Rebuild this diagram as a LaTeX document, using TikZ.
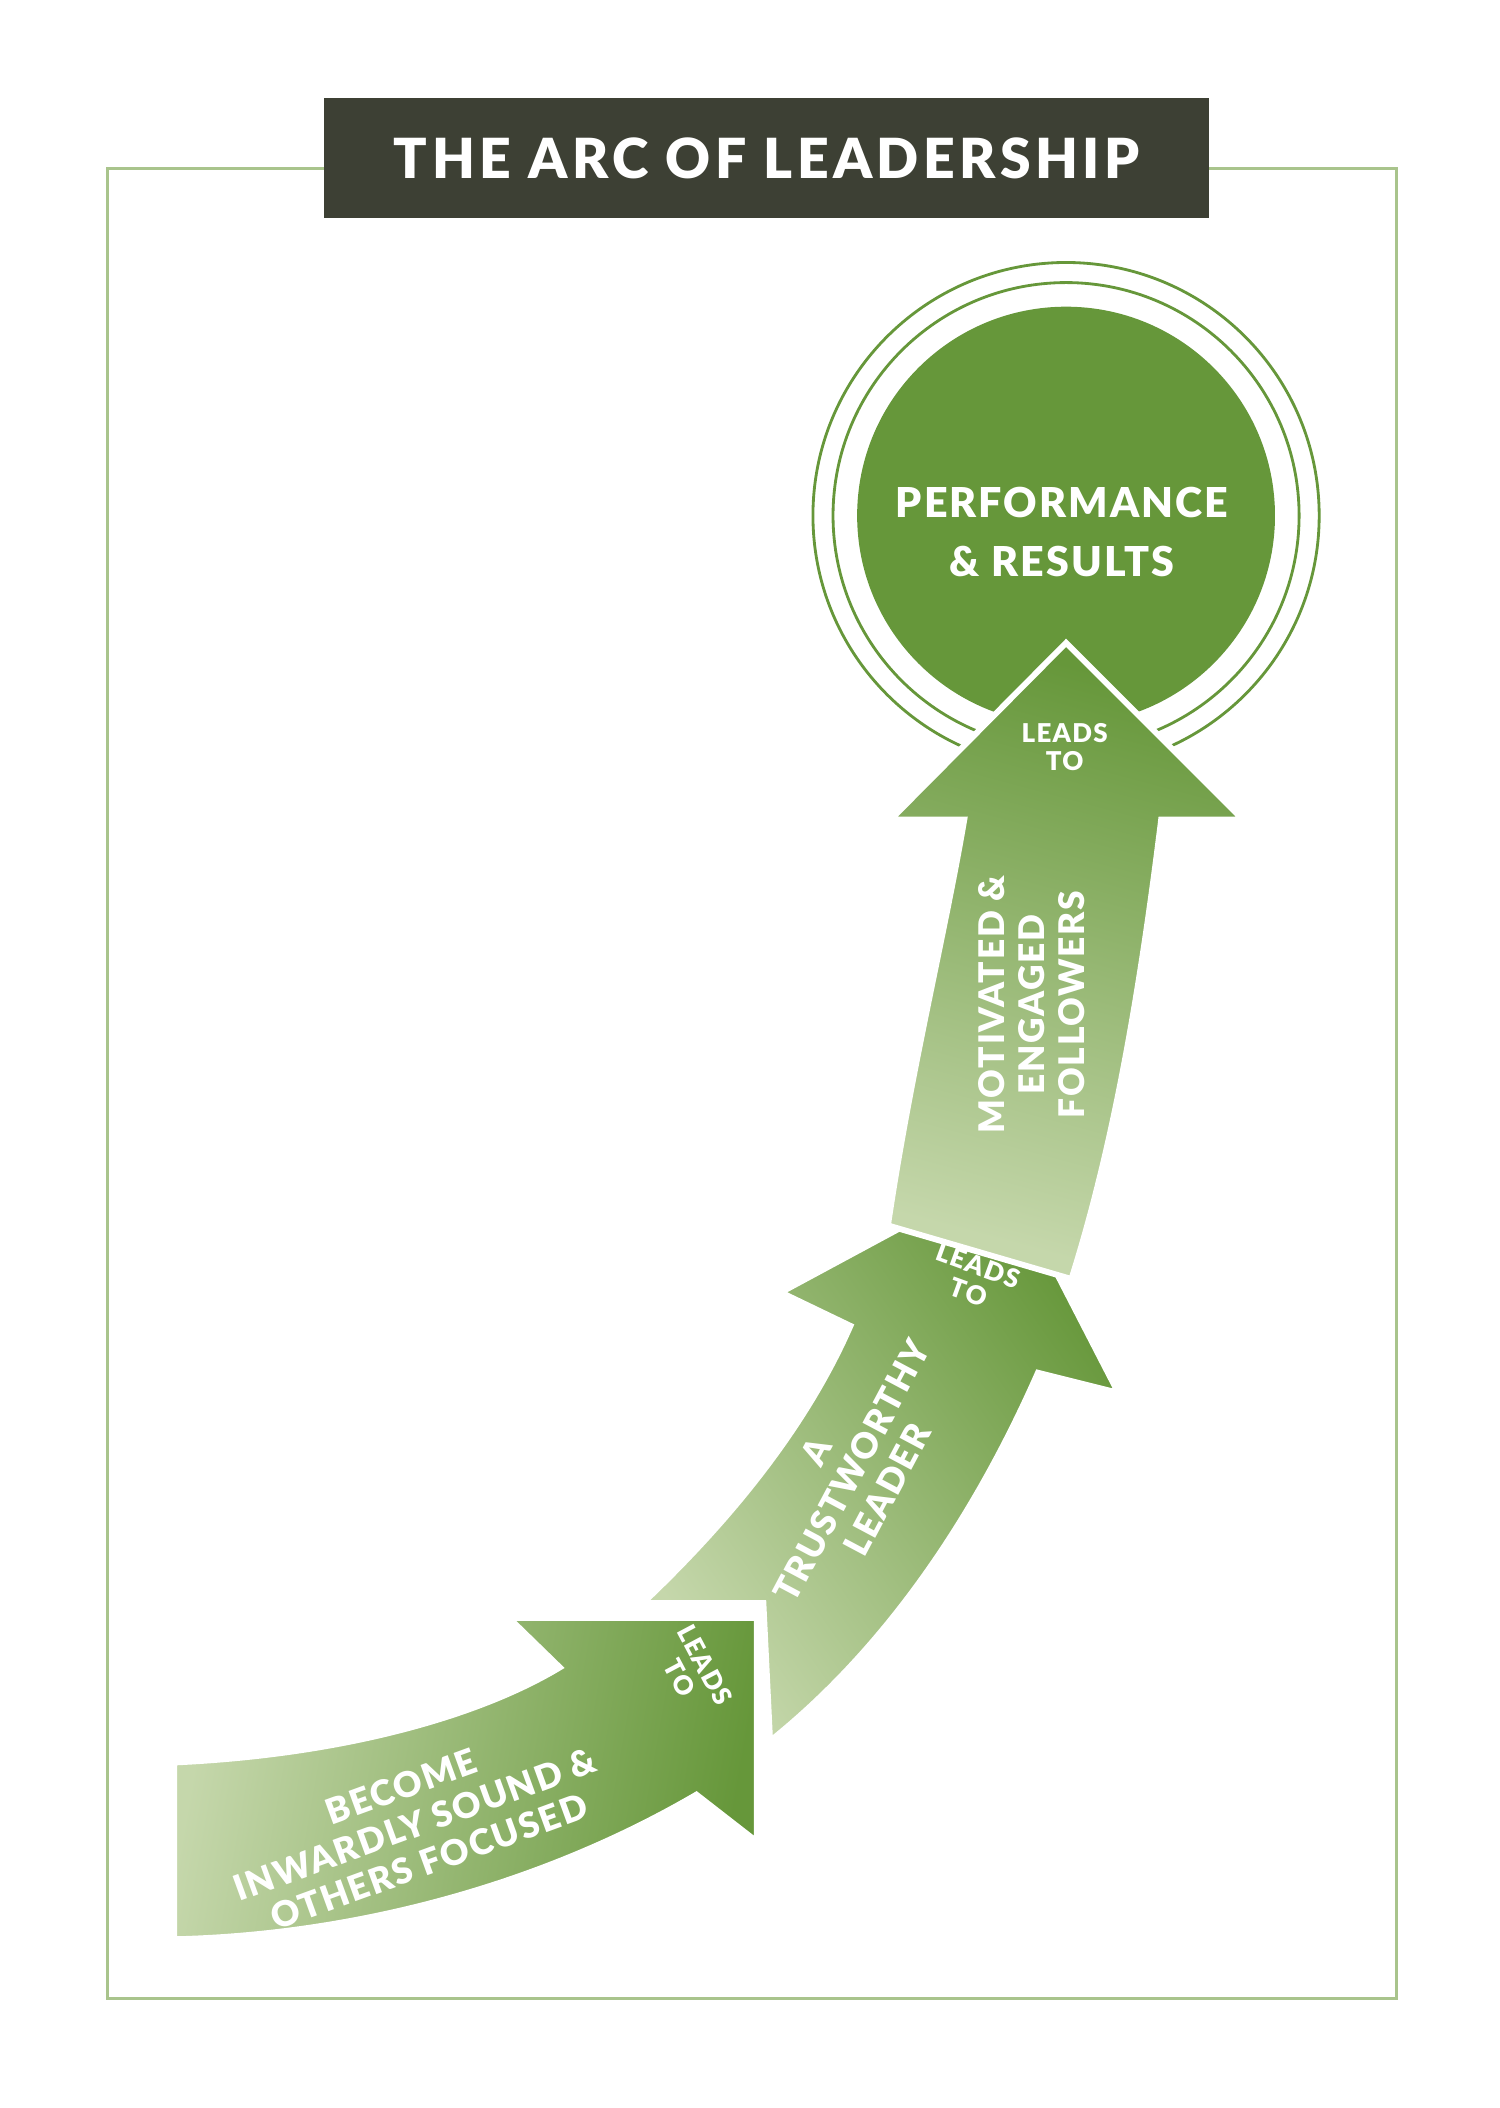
\documentclass[tikz,border=0pt]{standalone}
\usepackage{fontspec}
\setmainfont{Lato}
\newfontfamily\arcfont[LetterSpace=8]{Lato Black}
\newfontfamily\tagfont[LetterSpace=5]{Lato Black}
\usetikzlibrary{positioning}
\definecolor{leafgreen}{HTML}{66973A}
\definecolor{palegreen}{HTML}{C5D7AB}
\definecolor{darkslate}{HTML}{3D4034}
\definecolor{framegreen}{HTML}{A9C48C}
\begin{document}
\begin{tikzpicture}
[x=0.02cm, y=-0.02cm,
arrowbody/.style={draw=white, line width=2.5pt, line join=miter},
label/.style={text=white, font=\tagfont\fontsize{15}{17}\selectfont, align=center},
leads/.style={text=white, font=\tagfont\fontsize{11}{12}\selectfont, align=center}]
\useasboundingbox (0,0) rectangle (1120,1574);
% frame and title
\draw[framegreen, line width=1.2pt] (80,126) rectangle (1043,1492);
\node (title) [fill=darkslate, minimum width=661*0.02cm, minimum height=90*0.02cm,
  text=white, font=\arcfont\fontsize{23.5}{26}\selectfont] at (572.5,118) {THE ARC OF LEADERSHIP};
% goal circle
\draw[leafgreen, line width=1.2pt] (796,385) circle (189);
\draw[leafgreen, line width=1.2pt] (796,385) circle (174);
\fill[leafgreen] (796,385) circle (156);
\node (goal) [label, font=\tagfont\fontsize{17.5}{25}\selectfont] at (793,397) {PERFORMANCE\\\& RESULTS};
% arrows
\shadedraw[arrowbody, left color=palegreen, right color=leafgreen, shading angle=80]
  (130,1316) .. controls (260,1310) and (360,1280) .. (418,1245) -- (380,1208)
  -- (565,1208) -- (565,1375) -- (520,1340)
  .. controls (400,1410) and (260,1445) .. (130,1448) -- cycle;
\shadedraw[arrowbody, left color=palegreen, right color=leafgreen, shading angle=125]
  (480,1197) .. controls (540,1140) and (600,1070) .. (635,990) -- (583,965)
  -- (750,875) -- (835,1040) -- (775,1025)
  .. controls (720,1150) and (650,1240) .. (575,1300) -- (570,1197) -- cycle;
\shadedraw[arrowbody, bottom color=palegreen, top color=leafgreen, shading angle=-15]
  (663,915) .. controls (680,800) and (705,700) .. (720,612) -- (665,612)
  -- (796,480) -- (928,612) -- (867,612)
  .. controls (850,750) and (830,860) .. (800,955) -- cycle;
% labels
\node (inward) [label, rotate=20] at (310,1362) {BECOME\\INWARDLY SOUND \&\\OTHERS FOCUSED};
\node (leadsA) [leads, rotate=-62] at (517,1248) {LEADS\\TO};
\node (trust) [label, rotate=62] at (636,1098) {A\\TRUSTWORTHY\\LEADER};
\node (leadsB) [leads, rotate=-20] at (727,955) {LEADS\\TO};
\node (engaged) [label, rotate=90] at (770,750) {MOTIVATED \&\\ENGAGED\\FOLLOWERS};
\node (leadsC) [leads] at (795,558) {LEADS\\TO};
\end{tikzpicture}
\end{document}
